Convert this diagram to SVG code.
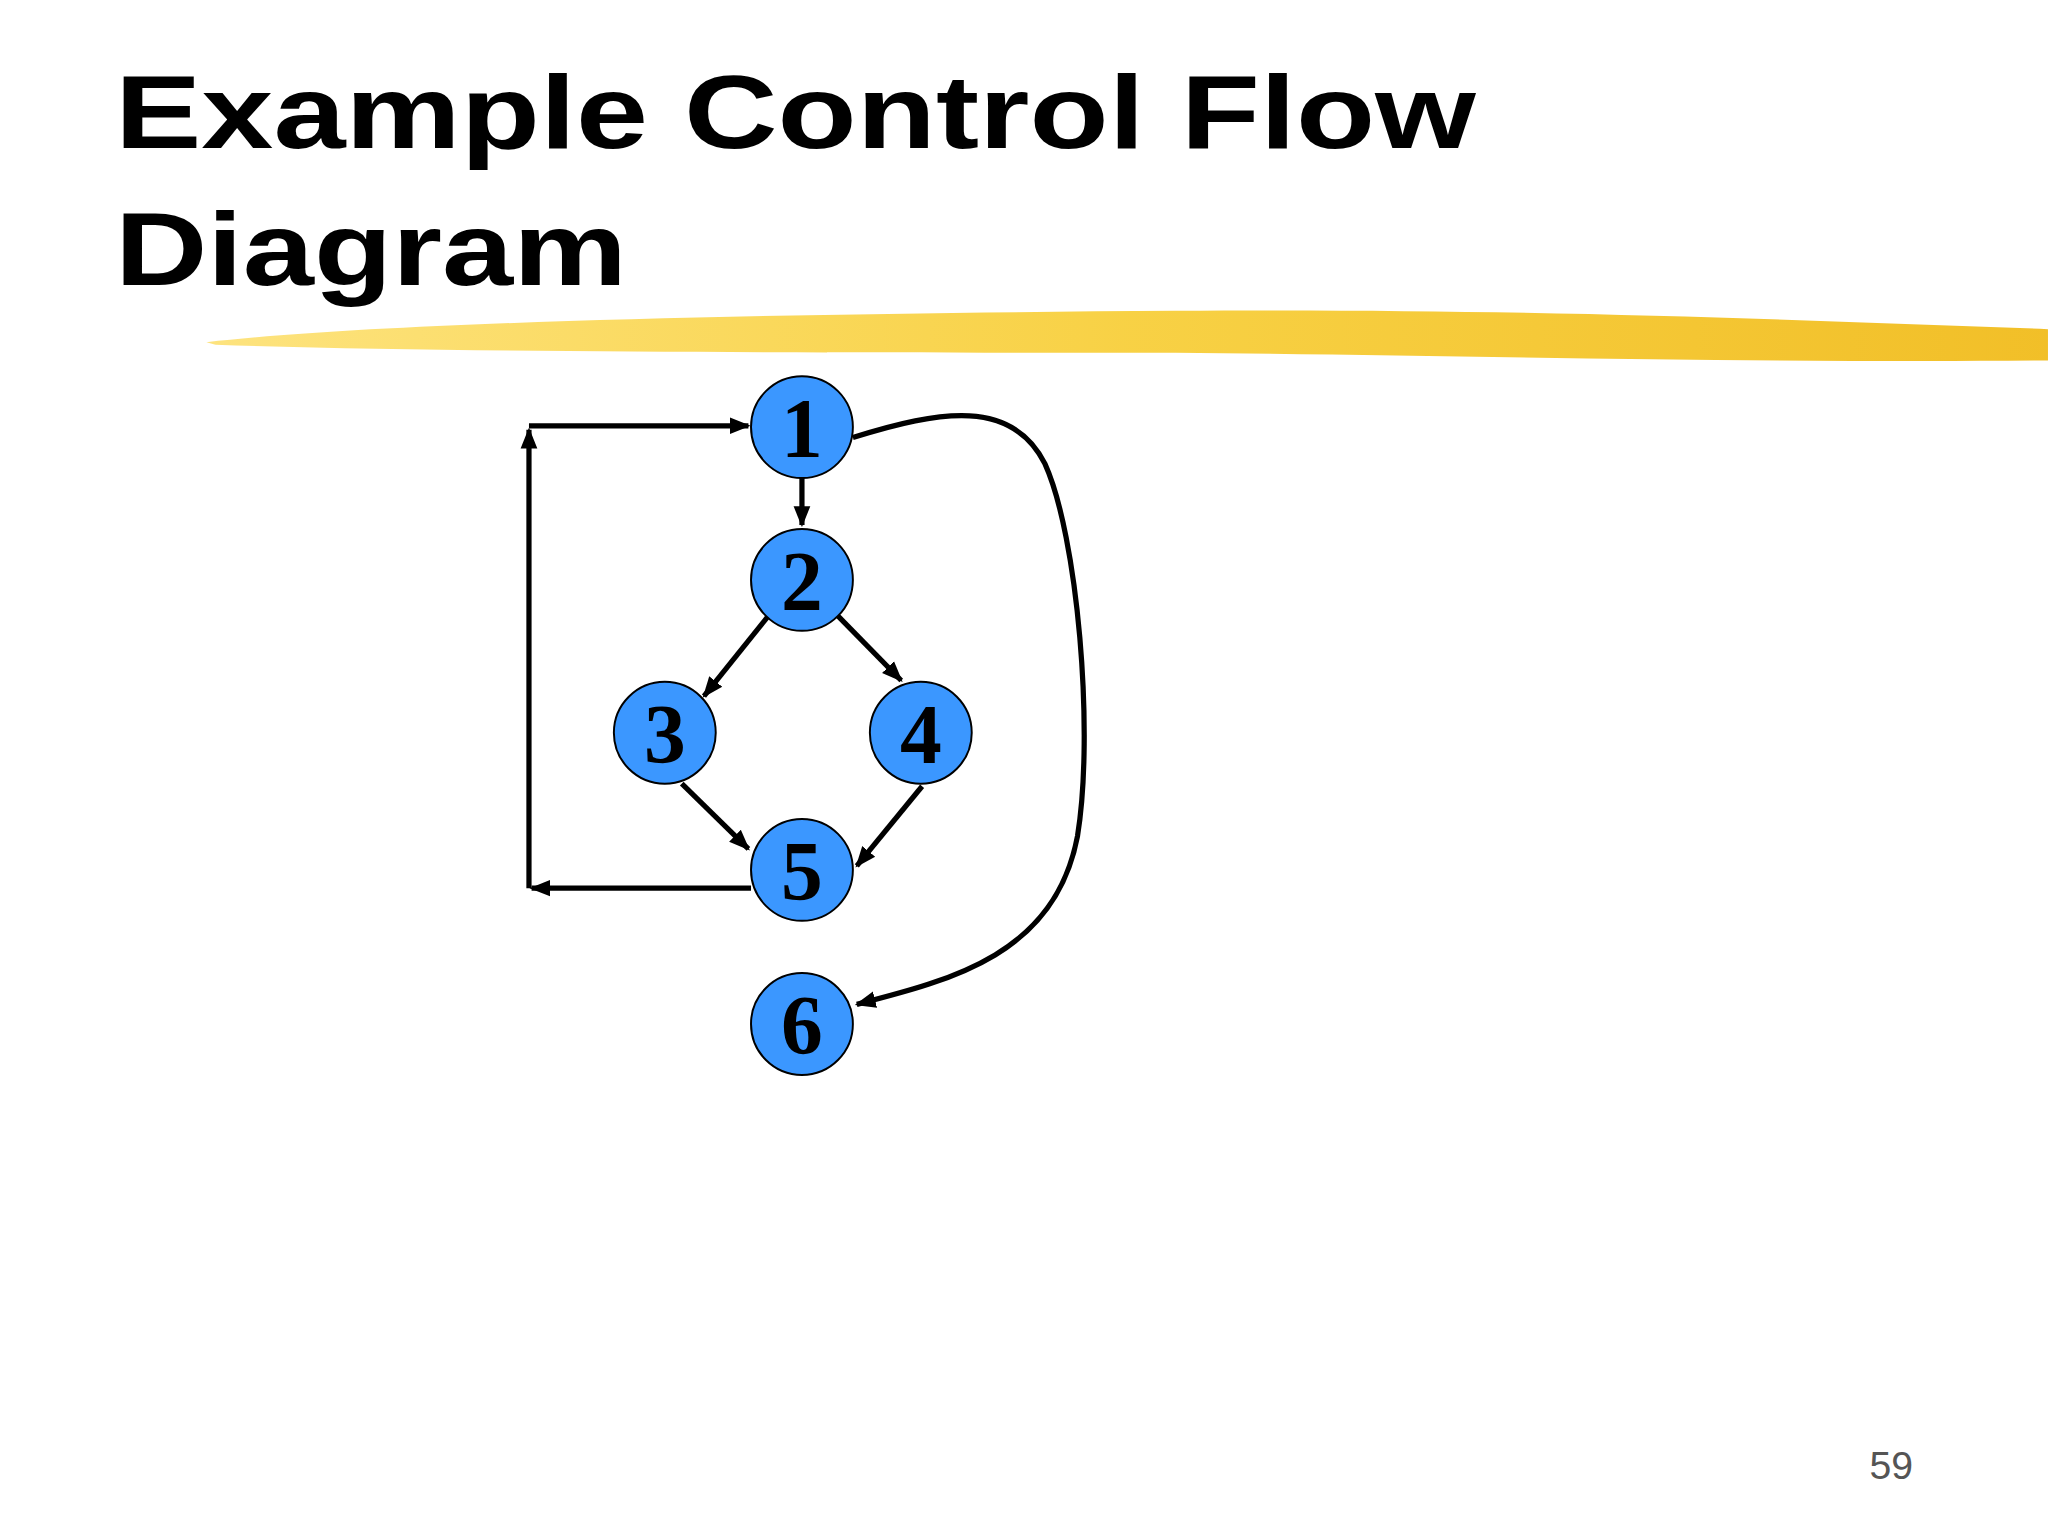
<svg xmlns="http://www.w3.org/2000/svg" width="2048" height="1536" viewBox="0 0 2048 1536">
<style>
.n{fill:#3b97ff;stroke:#000;stroke-width:1.5}
.t{font-family:"Liberation Serif",serif;font-weight:bold;font-size:64px;text-anchor:middle;fill:#000}
.c{fill:none;stroke:#000;stroke-width:4}
</style>
<defs>
<marker id="a" viewBox="0 0 10 10" refX="9" refY="5" markerWidth="4" markerHeight="4" orient="auto" markerUnits="strokeWidth"><path d="M0,1 L10,5 L0,9 z" fill="#000"/></marker>
<linearGradient id="y" x1="0" x2="1"><stop offset="0" stop-color="#fde070"/><stop offset="0.5" stop-color="#f7cc30"/><stop offset="1" stop-color="#f0b810"/></linearGradient>
</defs>
<rect width="2048" height="1536" fill="#fff"/>
<g transform="scale(1.3061)">
<text x="88" y="113" font-family="'Liberation Sans',sans-serif" font-weight="900" font-size="80" textLength="1042" lengthAdjust="spacingAndGlyphs">Example Control Flow</text>
<text x="88" y="218" font-family="'Liberation Sans',sans-serif" font-weight="900" font-size="80" textLength="392" lengthAdjust="spacingAndGlyphs">Diagram</text>
<path d="M158,262 C300,246 600,240 900,238 C1150,236 1350,244 1568,252 L1568,276 C1350,278 1100,272 900,270 C600,270 350,270 165,264 z" fill="url(#y)" opacity="0.9"/>
<text x="1448" y="1132" font-family="'Liberation Sans',sans-serif" font-size="30" fill="#555" text-anchor="middle">59</text>
<g id="connectors">
<path class="c" d="M614,350 L614,402" marker-end="url(#a)"/>
<path class="c" d="M588,472 L539,533" marker-end="url(#a)"/>
<path class="c" d="M640,470 L690,521" marker-end="url(#a)"/>
<path class="c" d="M522,600 L573,650" marker-end="url(#a)"/>
<path class="c" d="M706,602 L656,663" marker-end="url(#a)"/>
<path class="c" d="M575,680 L407,680" marker-end="url(#a)"/>
<path class="c" d="M405,680 L405,329" marker-end="url(#a)"/>
<path class="c" d="M405,326 L573,326" marker-end="url(#a)"/>
<path class="c" d="M653,335 C720,314 775,305 800,355 C825,410 838,560 825,640 C808,730 730,750 656,769" marker-end="url(#a)"/>
</g>
<g id="n1"><circle class="n" cx="614" cy="327" r="39"/><text class="t" x="614" y="350">1</text></g>
<g id="n2"><circle class="n" cx="614" cy="444" r="39"/><text class="t" x="614" y="467">2</text></g>
<g id="n3"><circle class="n" cx="509" cy="561" r="39"/><text class="t" x="509" y="584">3</text></g>
<g id="n4"><circle class="n" cx="705" cy="561" r="39"/><text class="t" x="705" y="584">4</text></g>
<g id="n5"><circle class="n" cx="614" cy="666" r="39"/><text class="t" x="614" y="689">5</text></g>
<g id="n6"><circle class="n" cx="614" cy="784" r="39"/><text class="t" x="614" y="807">6</text></g>
</g>
</svg>
